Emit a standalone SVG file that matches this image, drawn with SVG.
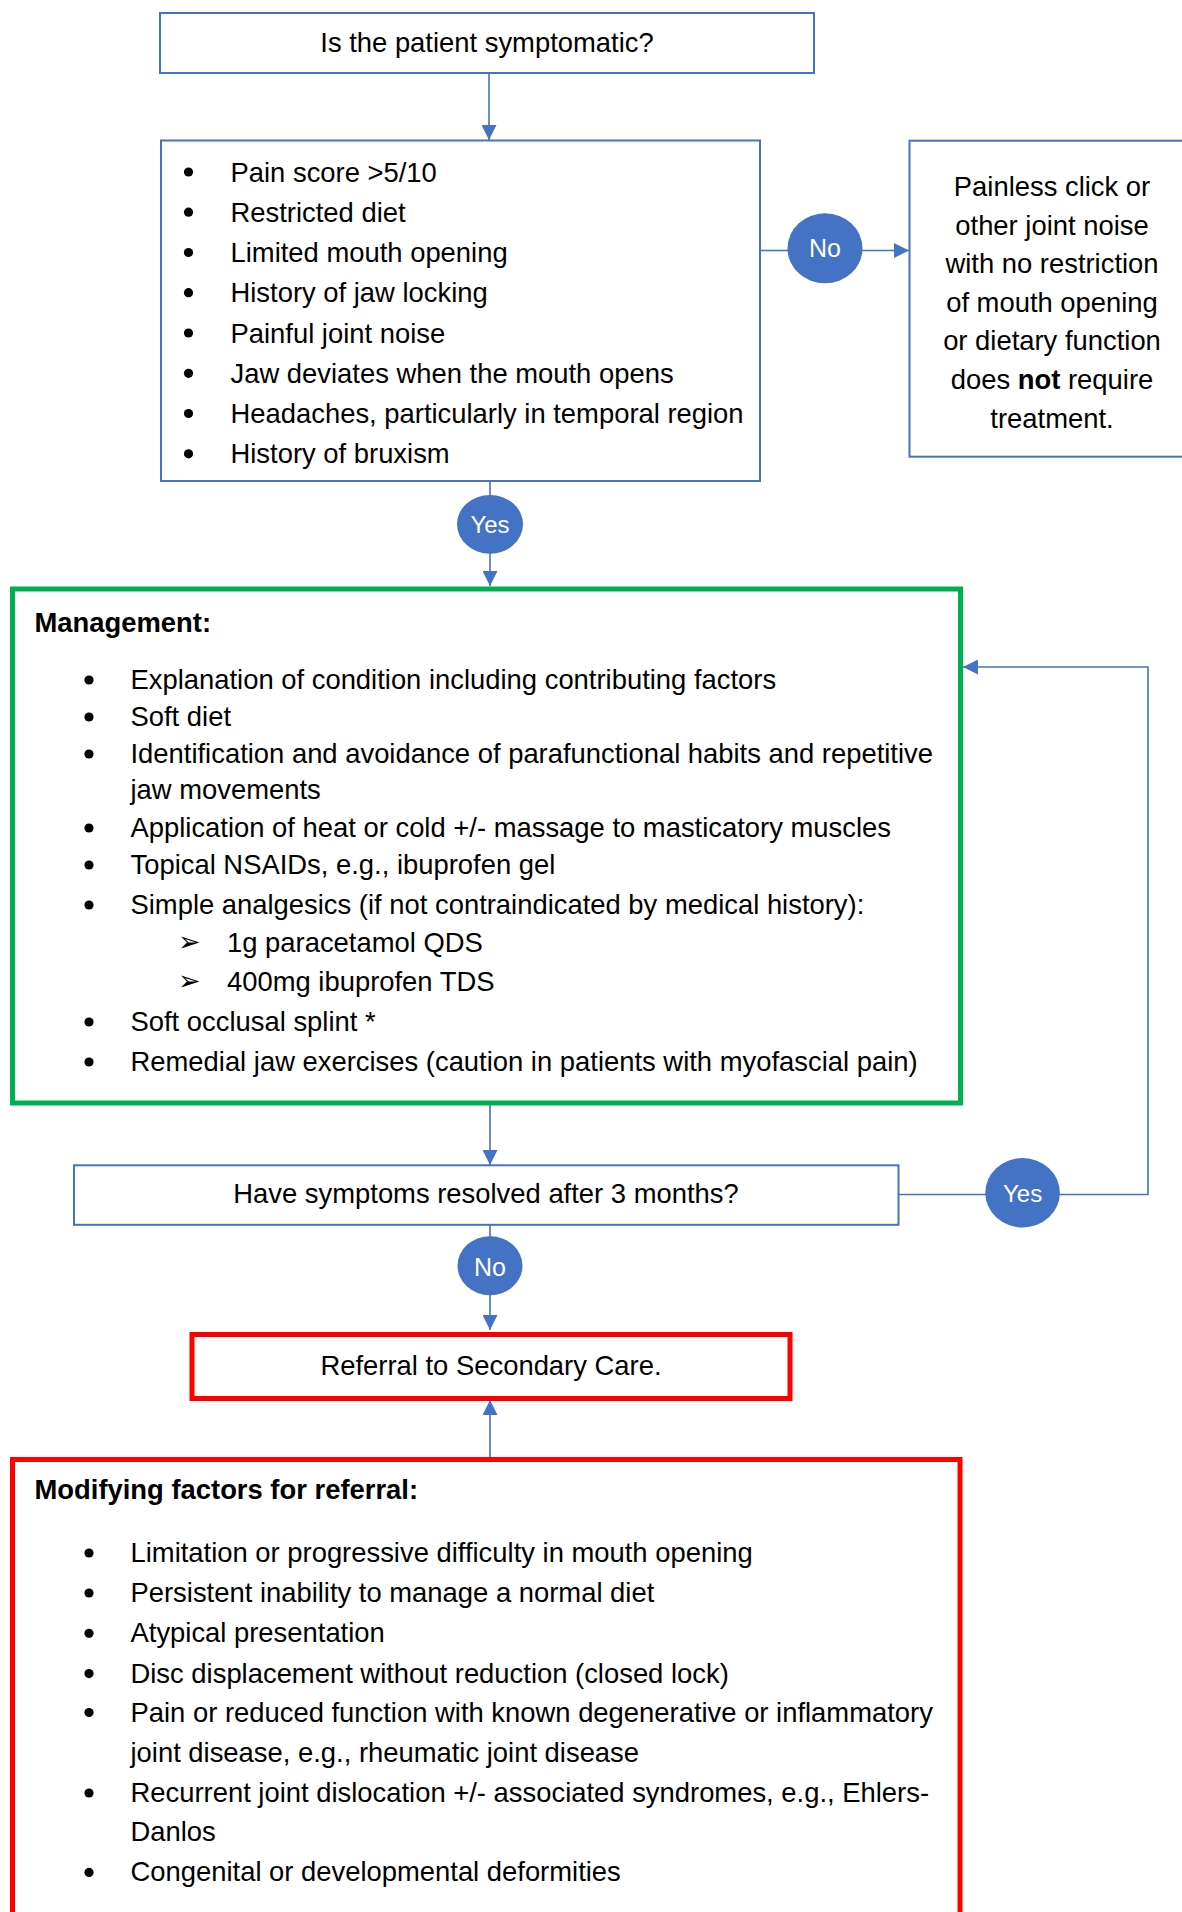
<svg xmlns="http://www.w3.org/2000/svg" width="1182" height="1912" viewBox="0 0 1182 1912">
<style>
text{font-family:"Liberation Sans",Arial,sans-serif;font-size:27.4px;fill:#000}
.c{text-anchor:middle}
.b{font-weight:bold}
.lbl{fill:#fff;font-size:25px;text-anchor:middle}
.sub{font-family:"DejaVu Sans",sans-serif;font-size:27px}
.box{fill:#fff;stroke:#4472C4;stroke-width:2}
.green{fill:#fff;stroke:#00B050;stroke-width:5}
.red{fill:#fff;stroke:#FF0000;stroke-width:5}
.oval{fill:#4472C4}
.ln{fill:none;stroke:#4472C4;stroke-width:1.6}
.dot{fill:#000}
</style>
<defs>
<marker id="arr" viewBox="0 0 15 15" refX="15" refY="7.5" markerWidth="15" markerHeight="15" markerUnits="userSpaceOnUse" orient="auto">
<path d="M0,0 L15,7.5 L0,15 z" fill="#4472C4"/>
</marker>
</defs>
<rect width="1182" height="1912" fill="#fff"/>

<g id="connectors">
<path class="ln" d="M489,73 V140" marker-end="url(#arr)"/>
<path class="ln" d="M760,250.5 H788"/>
<path class="ln" d="M862,250.5 H909" marker-end="url(#arr)"/>
<path class="ln" d="M490,481 V496"/>
<path class="ln" d="M490,553 V586" marker-end="url(#arr)"/>
<path class="ln" d="M490,1104 V1165" marker-end="url(#arr)"/>
<path class="ln" d="M490,1225 V1237"/>
<path class="ln" d="M490,1295 V1330" marker-end="url(#arr)"/>
<path class="ln" d="M490,1457 V1400" marker-end="url(#arr)"/>
<path class="ln" d="M899,1194.5 H986"/>
<path class="ln" d="M1059,1194.5 H1148 V667 H963" marker-end="url(#arr)"/>
</g>

<g id="n-symptomatic">
<rect class="box" x="160" y="13" width="654" height="60"/>
<text class="c" x="487" y="52">Is the patient symptomatic?</text>
</g>

<g id="n-criteria">
<rect class="box" x="161" y="140.5" width="599" height="340.5"/>
<g class="dot">
<circle cx="188.5" cy="172" r="4.6"/>
<circle cx="188.5" cy="212.2" r="4.6"/>
<circle cx="188.5" cy="252.5" r="4.6"/>
<circle cx="188.5" cy="292.7" r="4.6"/>
<circle cx="188.5" cy="333" r="4.6"/>
<circle cx="188.5" cy="373.3" r="4.6"/>
<circle cx="188.5" cy="413.5" r="4.6"/>
<circle cx="188.5" cy="453.8" r="4.6"/>
</g>
<text x="230.5" y="181.5">Pain score &gt;5/10</text>
<text x="230.5" y="221.7">Restricted diet</text>
<text x="230.5" y="262">Limited mouth opening</text>
<text x="230.5" y="302.2">History of jaw locking</text>
<text x="230.5" y="342.5">Painful joint noise</text>
<text x="230.5" y="382.8">Jaw deviates when the mouth opens</text>
<text x="230.5" y="423">Headaches, particularly in temporal region</text>
<text x="230.5" y="463.3">History of bruxism</text>
</g>

<g id="n-no1">
<ellipse class="oval" cx="825" cy="248.3" rx="37.5" ry="35"/>
<text class="lbl" x="825" y="257">No</text>
</g>

<g id="n-painless">
<rect class="box" x="909.5" y="140.7" width="290" height="316"/>
<text class="c" x="1052" y="196">Painless click or</text>
<text class="c" x="1052" y="234.6">other joint noise</text>
<text class="c" x="1052" y="273.2">with no restriction</text>
<text class="c" x="1052" y="311.8">of mouth opening</text>
<text class="c" x="1052" y="350.4">or dietary function</text>
<text class="c" x="1052" y="389">does <tspan class="b">not</tspan> require</text>
<text class="c" x="1052" y="427.6">treatment.</text>
</g>

<g id="n-yes1">
<ellipse class="oval" cx="490" cy="524.3" rx="33" ry="29.4"/>
<text class="lbl" x="490" y="533" style="font-size:24px">Yes</text>
</g>

<g id="n-management">
<rect class="green" x="12.5" y="589" width="948" height="514"/>
<text class="b" x="34.5" y="631.5">Management:</text>
<g class="dot">
<circle cx="89" cy="680" r="4.6"/>
<circle cx="89" cy="717" r="4.6"/>
<circle cx="89" cy="754" r="4.6"/>
<circle cx="89" cy="828" r="4.6"/>
<circle cx="89" cy="865" r="4.6"/>
<circle cx="89" cy="905" r="4.6"/>
<circle cx="89" cy="1022" r="4.6"/>
<circle cx="89" cy="1062" r="4.6"/>
</g>
<text x="130.5" y="689">Explanation of condition including contributing factors</text>
<text x="130.5" y="726">Soft diet</text>
<text x="130.5" y="763.3">Identification and avoidance of parafunctional habits and repetitive</text>
<text x="130.5" y="799.3">jaw movements</text>
<text x="130.5" y="837">Application of heat or cold +/- massage to masticatory muscles</text>
<text x="130.5" y="874.3">Topical NSAIDs, e.g., ibuprofen gel</text>
<text x="130.5" y="914">Simple analgesics (if not contraindicated by medical history):</text>
<text class="sub" x="178" y="951">➢</text>
<text class="sub" x="178" y="990">➢</text>
<text x="227" y="952.3">1g paracetamol QDS</text>
<text x="227" y="991">400mg ibuprofen TDS</text>
<text x="130.5" y="1030.5">Soft occlusal splint *</text>
<text x="130.5" y="1071.3">Remedial jaw exercises (caution in patients with myofascial pain)</text>
</g>

<g id="n-resolved">
<rect class="box" x="74" y="1165.3" width="824.5" height="59.5"/>
<text class="c" x="486" y="1203">Have symptoms resolved after 3 months?</text>
</g>

<g id="n-yes2">
<ellipse class="oval" cx="1022.6" cy="1192.8" rx="37.3" ry="34.7"/>
<text class="lbl" x="1022.6" y="1202" style="font-size:24px">Yes</text>
</g>

<g id="n-no2">
<ellipse class="oval" cx="490" cy="1265.7" rx="32.5" ry="29.5"/>
<text class="lbl" x="490" y="1275.5">No</text>
</g>

<g id="n-referral">
<rect class="red" x="192" y="1334.5" width="598" height="64"/>
<text class="c" x="491" y="1374.5">Referral to Secondary Care.</text>
</g>

<g id="n-modifying">
<rect class="red" x="12.5" y="1459.5" width="947.5" height="470"/>
<text class="b" x="34.5" y="1499">Modifying factors for referral:</text>
<g class="dot">
<circle cx="89" cy="1553" r="4.6"/>
<circle cx="89" cy="1593" r="4.6"/>
<circle cx="89" cy="1633.3" r="4.6"/>
<circle cx="89" cy="1673.6" r="4.6"/>
<circle cx="89" cy="1712.6" r="4.6"/>
<circle cx="89" cy="1793" r="4.6"/>
<circle cx="89" cy="1872.4" r="4.6"/>
</g>
<text x="130.5" y="1562">Limitation or progressive difficulty in mouth opening</text>
<text x="130.5" y="1602">Persistent inability to manage a normal diet</text>
<text x="130.5" y="1642.3">Atypical presentation</text>
<text x="130.5" y="1682.6">Disc displacement without reduction (closed lock)</text>
<text x="130.5" y="1721.6">Pain or reduced function with known degenerative or inflammatory</text>
<text x="130.5" y="1761.8">joint disease, e.g., rheumatic joint disease</text>
<text x="130.5" y="1802">Recurrent joint dislocation +/- associated syndromes, e.g., Ehlers-</text>
<text x="130.5" y="1841">Danlos</text>
<text x="130.5" y="1881">Congenital or developmental deformities</text>
</g>
</svg>
